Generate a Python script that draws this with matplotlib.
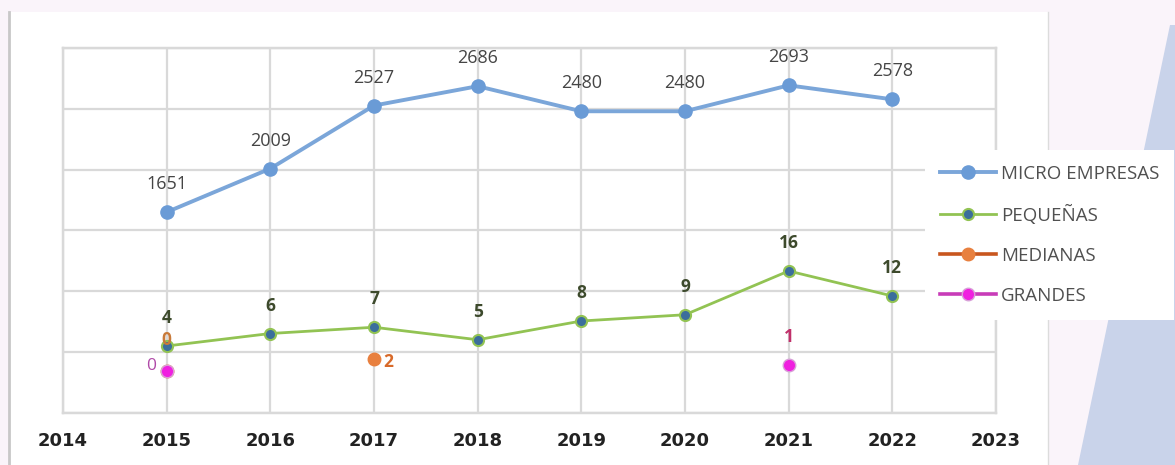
import numpy as np
import matplotlib
matplotlib.use("Agg")
from matplotlib import pyplot as plt
from matplotlib.patches import Rectangle, Polygon

years = [2015, 2016, 2017, 2018, 2019, 2020, 2021, 2022]
micro = [1651, 2009, 2527, 2686, 2480, 2480, 2693, 2578]
pequenas = [4, 6, 7, 5, 8, 9, 16, 12]
medianas = [0, np.nan, 2, np.nan, np.nan, np.nan, np.nan, np.nan]
grandes = [0, np.nan, np.nan, np.nan, np.nan, np.nan, 1, np.nan]
xticks = [2014, 2015, 2016, 2017, 2018, 2019, 2020, 2021, 2022, 2023]

plt.rcParams['font.family'] = ['Open Sans', 'DejaVu Sans']

fig = plt.figure(figsize=(11.75, 4.65), dpi=100)
fig.patch.set_facecolor('#faf4fa')

# white panel + border lines + blue decoration
fig.patches.append(Rectangle((10/1175, 0), 1038/1175, 453/465, transform=fig.transFigure,
                             facecolor='white', edgecolor='none', zorder=0))
fig.add_artist(plt.Line2D([9/1175, 9/1175], [0, 453/465], transform=fig.transFigure,
                          color='#c8c8c8', lw=2, zorder=1))
fig.add_artist(plt.Line2D([1048/1175, 1048/1175], [0, 453/465], transform=fig.transFigure,
                          color='#dcdcdc', lw=1, zorder=1))
fig.patches.append(Polygon([(1170/1175, 1 - 25/465), (1, 1 - 25/465), (1, 0), (1078/1175, 0)],
                           closed=True, transform=fig.transFigure,
                           facecolor='#c9d3ea', edgecolor='none', zorder=0))

ax = fig.add_axes([63/1175, 1 - 413/465, 933/1175, 365/465])
ax.set_facecolor('none')
ax2 = ax.twinx()
ax.set_zorder(2)
ax2.set_zorder(3)

ax.set_xlim(2014, 2023)
ax.set_ylim(0, 3000)
ax2.set_ylim(-6.72, 51.68)
ax.set_xticks(xticks)
ax.set_xticklabels([str(x) for x in xticks], fontweight='heavy', fontsize=13, color='#222222',
                   family=['DejaVu Sans'])
ax.tick_params(axis='x', length=0, pad=14)
ax.set_yticks(np.arange(0, 3001, 500))
ax.set_yticklabels([])
ax.tick_params(axis='y', length=0)
ax2.set_yticks([])
ax.grid(True, color='#d9d9d9', lw=1.6)
ax.set_axisbelow(True)
for a in (ax, ax2):
    for s in a.spines.values():
        s.set_color('#d9d9d9')
        s.set_linewidth(1.6)

l1, = ax.plot(years, micro, color='#7ba6d9', lw=2.8, marker='o', markersize=9.5,
              markerfacecolor='#6a9bd6', markeredgecolor='#6a9bd6', label='MICRO EMPRESAS', zorder=3)
for x, v in zip(years, micro):
    ax.annotate(str(v), (x, v), xytext=(0, 28), textcoords='offset pixels', ha='center', va='center',
                fontsize=13, color='#454545')

l2, = ax2.plot(years, pequenas, color='#92c353', lw=2, marker='o', markersize=8,
               markerfacecolor='#3b6e9c', markeredgecolor='#92c353', markeredgewidth=1.5,
               label='PEQUEÑAS', zorder=3)
for x, v in zip(years, pequenas):
    ax2.annotate(str(v), (x, v), xytext=(0, 28), textcoords='offset pixels', ha='center', va='center',
                 fontsize=12.5, fontweight='bold', color='#3d4a2c')

l3, = ax2.plot(years, medianas, color='#c8561e', lw=2.6, marker='o', markersize=9,
               markerfacecolor='#e8803f', markeredgecolor='#e8803f', label='MEDIANAS', zorder=4)
ax2.annotate('0', (years[0], medianas[0]), xytext=(0, 31), textcoords='offset pixels', ha='center',
             va='center', fontsize=12.5, fontweight='bold', color='#c87a3a')
ax2.annotate('2', (years[2], medianas[2]), xytext=(14, -3), textcoords='offset pixels', ha='center',
             va='center', fontsize=12.5, fontweight='bold', color='#d86a2a')

l4, = ax2.plot(years, grandes, color='#c83cb8', lw=2.6, marker='o', markersize=9,
               markerfacecolor='#f020e0', markeredgecolor='#d8a0d8', label='GRANDES', zorder=5)
ax2.annotate('0', (years[0], grandes[0]), xytext=(-16, 5), textcoords='offset pixels', ha='center',
             va='center', fontsize=12.5, color='#b04aa8')
ax2.annotate('1', (years[6], grandes[6]), xytext=(0, 28), textcoords='offset pixels', ha='center',
             va='center', fontsize=12.5, fontweight='bold', color='#c0306a')

leg = fig.legend(handles=[l1, l2, l3, l4], loc='upper left',
                 bbox_to_anchor=(925/1175, 1 - 150/465), frameon=True, fancybox=False,
                 fontsize=13.5, labelcolor='#505050', handlelength=3.0, labelspacing=1.17,
                 borderpad=0.8, handletextpad=0.25, borderaxespad=0)
leg.set_zorder(10)
leg.get_frame().set_facecolor('white')
leg.get_frame().set_edgecolor('none')
leg.get_frame().set_alpha(1)

plt.savefig("out.png", dpi=100, facecolor=fig.get_facecolor())
